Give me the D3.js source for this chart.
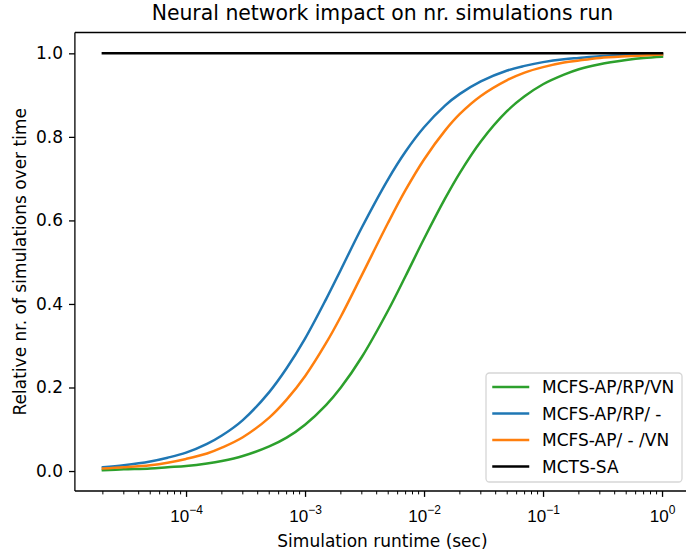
<!DOCTYPE html>
<html>
<head>
<meta charset="utf-8">
<script src="https://cdn.jsdelivr.net/npm/d3@7"></script>
<style>
  body { margin: 0; background: white; }
  svg { display: block; font-family: "DejaVu Sans", sans-serif; }
</style>
</head>
<body>
<div id="chart"></div>
<script>
// simulation runtime in seconds
var runtime = [2e-5, 3e-5, 5e-5, 7e-5, 1e-4, 1.5e-4, 2e-4, 3e-4, 5e-4, 7e-4,
  1e-3, 1.5e-3, 2e-3, 3e-3, 5e-3, 7e-3, 1e-2, 1.5e-2, 2e-2, 3e-2, 5e-2, 7e-2,
  0.1, 0.15, 0.2, 0.3, 0.5, 0.7, 1];

var apRpVn = [0.002, 0.004, 0.006, 0.009, 0.012, 0.018, 0.024, 0.036, 0.059, 0.080,
  0.111, 0.158, 0.200, 0.273, 0.385, 0.467, 0.556, 0.652, 0.714, 0.789, 0.862, 0.897,
  0.926, 0.949, 0.962, 0.974, 0.984, 0.989, 0.992];
var apRp = [0.009, 0.014, 0.023, 0.032, 0.044, 0.065, 0.085, 0.122, 0.189, 0.246,
  0.317, 0.411, 0.482, 0.583, 0.699, 0.765, 0.823, 0.875, 0.903, 0.933, 0.959, 0.970,
  0.979, 0.986, 0.989, 0.993, 0.996, 0.997, 0.998];
var apVn = [0.006, 0.009, 0.014, 0.020, 0.029, 0.042, 0.056, 0.081, 0.128, 0.171,
  0.227, 0.306, 0.370, 0.469, 0.595, 0.673, 0.746, 0.815, 0.855, 0.898, 0.936, 0.954,
  0.967, 0.978, 0.983, 0.989, 0.993, 0.995, 0.997];
var mctsRuntime = [2e-5, 1];
var mctsSa = [1.0, 1.0];

var seriesNames = ["MCFS-AP/RP/VN", "MCFS-AP/RP/ -", "MCFS-AP/ - /VN", "MCTS-SA"];
var seriesColors = ["#2ca02c", "#1f77b4", "#ff7f0e", "#000000"];
var yTicks = [0.0, 0.2, 0.4, 0.6, 0.8, 1.0];
var xTickExp = [-4, -3, -2, -1, 0];

var width = 686, height = 554;
var margin = { left: 74.9, top: 32.5, right: 690, bottom: 491 };
var fs = 17, lw = 2.5;

var svg = d3.select("#chart").append("svg")
  .attr("width", width).attr("height", height);

var x = d3.scaleLog().domain([Math.pow(10, -4.934), Math.pow(10, 0.235)])
  .range([margin.left, margin.right]);
var y = d3.scaleLinear().domain([-0.0478, 1.0499])
  .range([margin.bottom, margin.top]);

// lines
var series = [
  { xs: runtime, ys: apRpVn },
  { xs: runtime, ys: apRp },
  { xs: runtime, ys: apVn },
  { xs: mctsRuntime, ys: mctsSa }
];
var line = d3.line()
  .x(function(d) { return x(d[0]); })
  .y(function(d) { return y(d[1]); })
  .curve(d3.curveCatmullRom.alpha(0.5));

var plot = svg.append("g");
series.forEach(function(s, i) {
  var pts = s.xs.map(function(v, j) { return [v, s.ys[j]]; });
  plot.append("path")
    .attr("d", line(pts))
    .attr("fill", "none")
    .attr("stroke", seriesColors[i])
    .attr("stroke-width", lw)
    .attr("stroke-linecap", "square");
});

// axes
var xAxis = svg.append("g").attr("transform", "translate(0," + margin.bottom + ")");
xAxis.call(d3.axisBottom(x)
  .tickValues(xTickExp.map(function(e) { return Math.pow(10, e); }))
  .tickSize(5.9).tickFormat(""));
var minor = [];
for (var e = -5; e <= 0; e++) {
  for (var k = 2; k <= 9; k++) {
    var v = k * Math.pow(10, e);
    if (v > x.domain()[0] && v < x.domain()[1]) minor.push(v);
  }
}
xAxis.selectAll(".minor").data(minor).enter().append("line")
  .attr("class", "minor")
  .attr("x1", function(d) { return x(d); }).attr("x2", function(d) { return x(d); })
  .attr("y1", 0).attr("y2", 3.4)
  .attr("stroke", "#000").attr("stroke-width", 1.0);
xAxis.selectAll(".tick").each(function(d, i) {
  var t = d3.select(this).append("text")
    .attr("y", 30.5).attr("fill", "#000")
    .style("font-size", fs + "px").attr("text-anchor", "middle");
  t.append("tspan").text("10");
  t.append("tspan").attr("dy", -7.5).style("font-size", "12px")
    .text(xTickExp[i] < 0 ? "\u2212" + (-xTickExp[i]) : String(xTickExp[i]));
});

var yAxis = svg.append("g").attr("transform", "translate(" + margin.left + ",0)");
yAxis.call(d3.axisLeft(y).tickValues(yTicks).tickSize(5.9).tickPadding(5.9)
  .tickFormat(d3.format(".1f")));
yAxis.selectAll("text").style("font-size", fs + "px").attr("fill", "#000")
  .style("font-family", "DejaVu Sans");

svg.selectAll(".domain").remove();
svg.selectAll(".tick line").attr("stroke", "#000").attr("stroke-width", 1.3);

// spines
var spine = svg.append("g").attr("stroke", "#000").attr("stroke-width", 1.3);
spine.append("line").attr("x1", margin.left).attr("x2", margin.left)
  .attr("y1", margin.top).attr("y2", margin.bottom);
spine.append("line").attr("x1", margin.left).attr("x2", margin.right)
  .attr("y1", margin.bottom).attr("y2", margin.bottom);
spine.append("line").attr("x1", margin.left).attr("x2", margin.right)
  .attr("y1", margin.top).attr("y2", margin.top);
spine.append("line").attr("x1", margin.right).attr("x2", margin.right)
  .attr("y1", margin.top).attr("y2", margin.bottom);

// labels
svg.append("text")
  .attr("x", (margin.left + margin.right) / 2).attr("y", 20)
  .attr("text-anchor", "middle").style("font-size", "20.4px")
  .text("Neural network impact on nr. simulations run");
svg.append("text")
  .attr("x", (margin.left + margin.right) / 2).attr("y", 547)
  .attr("text-anchor", "middle").style("font-size", fs + "px")
  .text("Simulation runtime (sec)");
svg.append("text")
  .attr("transform", "translate(26," + (margin.top + margin.bottom) / 2 + ") rotate(-90)")
  .attr("text-anchor", "middle").style("font-size", fs + "px")
  .text("Relative nr. of simulations over time");

// legend
var legend = svg.append("g").attr("transform", "translate(486,373)");
legend.append("rect")
  .attr("width", 196).attr("height", 109).attr("rx", 3.5)
  .attr("fill", "white").attr("fill-opacity", 0.8)
  .attr("stroke", "#d6d6d6").attr("stroke-width", 1.3);
seriesNames.forEach(function(name, i) {
  var ly = 14 + i * 26.5;
  legend.append("line")
    .attr("x1", 7.5).attr("x2", 42).attr("y1", ly).attr("y2", ly)
    .attr("stroke", seriesColors[i]).attr("stroke-width", lw)
    .attr("stroke-linecap", "square");
  legend.append("text")
    .attr("x", 56).attr("y", ly + 6).style("font-size", fs + "px")
    .text(name);
});
</script>
</body>
</html>
